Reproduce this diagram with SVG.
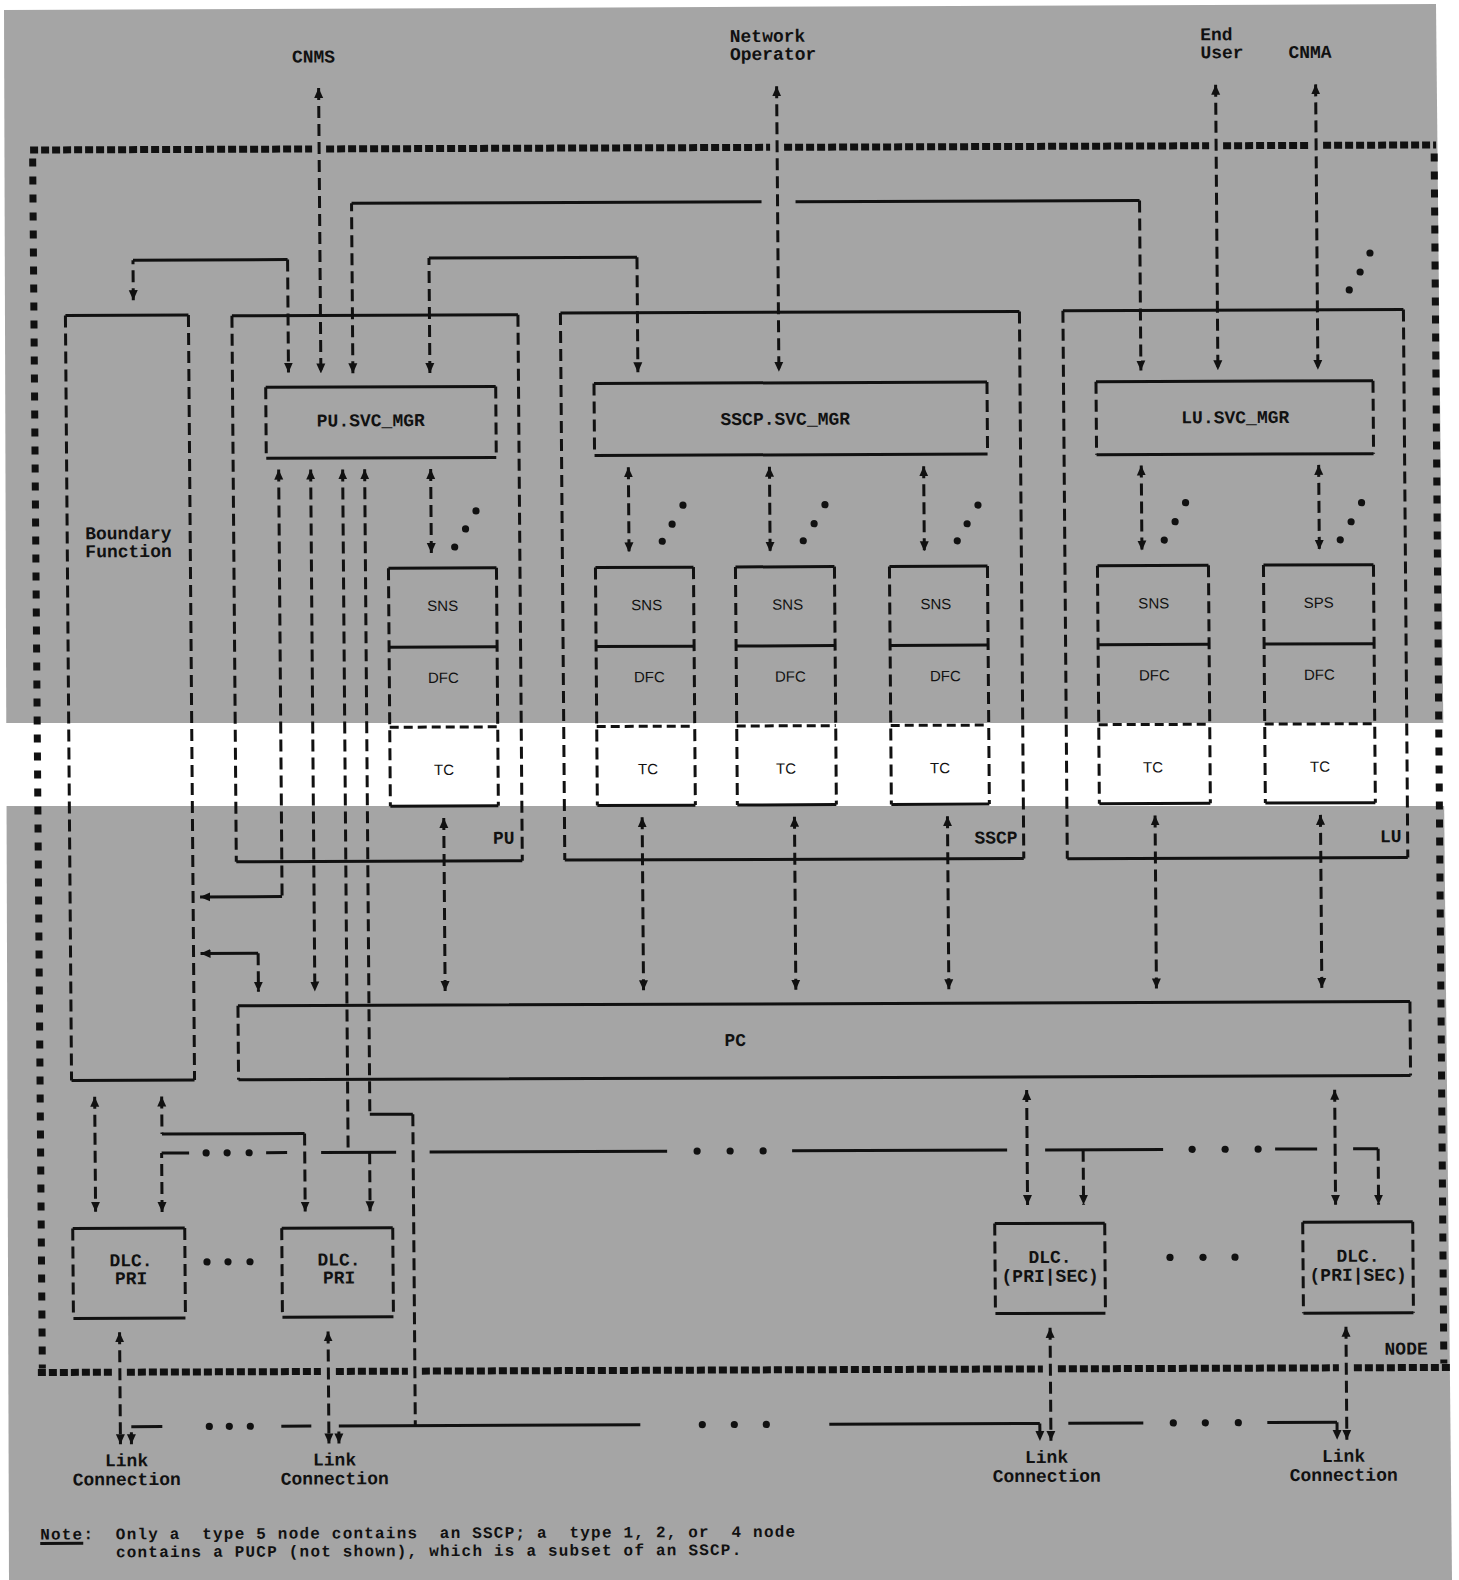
<svg xmlns="http://www.w3.org/2000/svg" width="1459" height="1580" viewBox="0 0 1459 1580">
<defs>
<style>
.s{stroke:#111;stroke-width:3;fill:none}
.d{stroke:#111;stroke-width:3;fill:none;stroke-dasharray:12 6}
.td{stroke:#111;stroke-width:3;fill:none;stroke-dasharray:9 5}
.bh{stroke:#111;stroke-width:7;fill:none;stroke-dasharray:8 3}
.bv{stroke:#111;stroke-width:7;fill:none;stroke-dasharray:8 10}
.m{font-family:"Liberation Mono","DejaVu Sans Mono",monospace;font-weight:bold;font-size:18px;fill:#111}
.n{font-family:"Liberation Mono","DejaVu Sans Mono",monospace;font-weight:bold;font-size:16px;letter-spacing:1.2px;fill:#111;white-space:pre}
.c{text-anchor:middle}
.e{text-anchor:end}
.sa{font-family:"Liberation Sans",Arial,sans-serif;font-size:15px;fill:#111;text-anchor:middle}
.dt{fill:#111}
</style>
<marker id="ah" viewBox="0 0 10 10" refX="10" refY="5" markerWidth="10" markerHeight="10" markerUnits="userSpaceOnUse" orient="auto-start-reverse"><path d="M0,0.5 L10,5 L0,9.5 z" fill="#111"/></marker>
</defs>
<rect width="1459" height="1580" fill="#fff"/>
<polygon points="4,10 1436,4 1452,1580 9,1580" fill="#a5a5a5"/>
<rect x="0" y="723" width="1459" height="83" fill="#fff"/>
<g transform="matrix(1 -0.0036 0.008 1 -6.08 2.63)">
<g id="node-border">
<path class="bh" d="M35,147.5 H317 M331,147.5 H775 M789,147.5 H1214 M1228,147.5 H1314 M1328,147.5 H1441"/>
<path class="bv" d="M37.5,156 V1366 M1439,156 V1366"/>
<path class="bh" d="M33,1370 H108 M122,1370 H316 M331,1370 H403 M417,1370 H1038 M1053,1370 H1334 M1349,1370 H1446"/>
<text class="m e" x="1423" y="1357">NODE</text>
</g>
<g id="labels-top">
<text class="m" x="297.5" y="61">CNMS</text>
<text class="m" x="735.5" y="42">Network</text>
<text class="m" x="735.5" y="60">Operator</text>
<text class="m" x="1206" y="42">End</text>
<text class="m" x="1206" y="60">User</text>
<text class="m" x="1294" y="60">CNMA</text>
</g>
<g id="boundary-function">
<path class="s" d="M69,313 H192 M69,1078 H192"/>
<path class="d" d="M69,313 V1078 M192,313 V1078"/>
<text class="m" x="87" y="537">Boundary</text>
<text class="m" x="87" y="555">Function</text>
</g>
<g id="pu">
<path class="s" d="M235.5,314 H521.5 M235.5,860 H521.5"/>
<path class="d" d="M235.5,314 V860 M521.5,314 V860"/>
<text class="m e" x="514" y="843">PU</text>
</g>
<g id="pu-svc-mgr">
<path class="s" d="M268.7,385.7 H498.7 M268.7,456.7 H498.7"/>
<path class="d" d="M268.7,385.7 V456.7 M498.7,385.7 V456.7"/>
<text class="m c" x="373.5" y="425">PU.SVC_MGR</text>
</g>
<g id="pu-sns">
<path class="s" d="M390,567 H498 M390,646 H498 M390,805 H498"/>
<path class="td" d="M390,726 H498"/>
<path class="d" d="M390,567 V805 M498,567 V805"/>
<text class="sa" x="444" y="610">SNS</text>
<text class="sa" x="444" y="682">DFC</text>
<text class="sa" x="444" y="774">TC</text>
</g>
<g id="sscp">
<path class="s" d="M564,312.5 H1023 M564,859.5 H1023"/>
<path class="d" d="M564,312.5 V859.5 M1023,312.5 V859.5"/>
<text class="m e" x="1017" y="844.5">SSCP</text>
</g>
<g id="sscp-svc-mgr">
<path class="s" d="M597,383 H990 M597,455 H990"/>
<path class="d" d="M597,383 V455 M990,383 V455"/>
<text class="m c" x="788" y="425">SSCP.SVC_MGR</text>
</g>
<g id="sscp-sns-1">
<path class="s" d="M597,567 H695 M597,646 H695 M597,805 H695"/>
<path class="td" d="M597,726 H695"/>
<path class="d" d="M597,567 V805 M695,567 V805"/>
<text class="sa" x="648" y="610">SNS</text>
<text class="sa" x="650" y="682">DFC</text>
<text class="sa" x="648" y="774">TC</text>
</g>
<g id="sscp-sns-2">
<path class="s" d="M737,567 H836 M737,646 H836 M737,805 H836"/>
<path class="td" d="M737,726 H836"/>
<path class="d" d="M737,567 V805 M836,567 V805"/>
<text class="sa" x="789" y="610">SNS</text>
<text class="sa" x="791" y="682">DFC</text>
<text class="sa" x="786" y="774">TC</text>
</g>
<g id="sscp-sns-3">
<path class="s" d="M891,567 H989 M891,646 H989 M891,805 H989"/>
<path class="td" d="M891,726 H989"/>
<path class="d" d="M891,567 V805 M989,567 V805"/>
<text class="sa" x="937" y="610">SNS</text>
<text class="sa" x="946" y="682">DFC</text>
<text class="sa" x="940" y="774">TC</text>
</g>
<g id="lu">
<path class="s" d="M1066.5,312 H1407 M1066.5,860 H1407"/>
<path class="d" d="M1066.5,312 V860 M1407,312 V860"/>
<text class="m e" x="1401" y="844.5">LU</text>
</g>
<g id="lu-svc-mgr">
<path class="s" d="M1099,383 H1376 M1099,456 H1376"/>
<path class="d" d="M1099,383 V456 M1376,383 V456"/>
<text class="m c" x="1238" y="425">LU.SVC_MGR</text>
</g>
<g id="lu-sns">
<path class="s" d="M1099,567 H1210 M1099,646 H1210 M1099,805 H1210"/>
<path class="td" d="M1099,726 H1210"/>
<path class="d" d="M1099,567 V805 M1210,567 V805"/>
<text class="sa" x="1155" y="610">SNS</text>
<text class="sa" x="1155" y="682">DFC</text>
<text class="sa" x="1153" y="774">TC</text>
</g>
<g id="lu-sps">
<path class="s" d="M1265,567 H1375 M1265,646 H1375 M1265,805 H1375"/>
<path class="td" d="M1265,726 H1375"/>
<path class="d" d="M1265,567 V805 M1375,567 V805"/>
<text class="sa" x="1320" y="610">SPS</text>
<text class="sa" x="1320" y="682">DFC</text>
<text class="sa" x="1320" y="774">TC</text>
</g>
<g id="pc">
<path class="s" d="M236,1004 H1408 M236,1078 H1408"/>
<path class="d" d="M236,1004 V1078 M1408,1004 V1078"/>
<text class="m c" x="733" y="1046">PC</text>
</g>
<g id="dlc-1">
<path class="s" d="M69,1226 H181 M69,1316 H181"/>
<path class="d" d="M69,1226 V1316 M181,1226 V1316"/>
<text class="m c" x="127" y="1264">DLC.</text>
<text class="m c" x="127" y="1282">PRI</text>
</g>
<g id="dlc-2">
<path class="s" d="M278,1226.5 H389 M278,1315.5 H389"/>
<path class="d" d="M278,1226.5 V1315.5 M389,1226.5 V1315.5"/>
<text class="m c" x="335" y="1264">DLC.</text>
<text class="m c" x="335" y="1282">PRI</text>
</g>
<g id="dlc-3">
<path class="s" d="M991,1224.5 H1101 M991,1314.5 H1101"/>
<path class="d" d="M991,1224.5 V1314.5 M1101,1224.5 V1314.5"/>
<text class="m c" x="1046" y="1264">DLC.</text>
<text class="m c" x="1046" y="1283">(PRI|SEC)</text>
</g>
<g id="dlc-4">
<path class="s" d="M1299,1224.3 H1409 M1299,1315.3 H1409"/>
<path class="d" d="M1299,1224.3 V1315.3 M1409,1224.3 V1315.3"/>
<text class="m c" x="1354" y="1264">DLC.</text>
<text class="m c" x="1354" y="1283">(PRI|SEC)</text>
</g>
<g id="link-labels">
<text class="m c" x="121" y="1464">Link</text>
<text class="m c" x="121" y="1483">Connection</text>
<text class="m c" x="329" y="1464">Link</text>
<text class="m c" x="329" y="1483">Connection</text>
<text class="m c" x="1041" y="1464">Link</text>
<text class="m c" x="1041" y="1483">Connection</text>
<text class="m c" x="1338" y="1464">Link</text>
<text class="m c" x="1338" y="1483">Connection</text>
</g>
<g id="note">
<text class="n" x="34" y="1537">Note:  Only a  type 5 node contains  an SSCP; a  type 1, 2, or  4 node</text>
<text class="n" x="109.6" y="1555">contains a PUCP (not shown), which is a subset of an SSCP.</text>
<path class="s" d="M34,1541 H77" stroke-width="2"/>
</g>
<g id="connectors">
<path class="d" d="M324,86.5 V372" marker-start="url(#ah)" marker-end="url(#ah)"/>
<path class="d" d="M782,86.5 V372" marker-start="url(#ah)" marker-end="url(#ah)"/>
<path class="d" d="M1221,86.5 V372" marker-start="url(#ah)" marker-end="url(#ah)"/>
<path class="d" d="M1321,86.5 V372" marker-start="url(#ah)" marker-end="url(#ah)"/>
<path class="d" d="M137,298 V258" marker-start="url(#ah)"/>
<path class="s" d="M137,258 H291.6"/>
<path class="d" d="M291.6,258 V371" marker-end="url(#ah)"/>
<path class="d" d="M356,372 V202" marker-start="url(#ah)"/>
<path class="s" d="M356,202 H766 M800,202 H1144"/>
<path class="d" d="M1144,202 V372" marker-end="url(#ah)"/>
<path class="d" d="M433,372 V257" marker-start="url(#ah)"/>
<path class="s" d="M433,257 H641"/>
<path class="d" d="M641,257 V372" marker-end="url(#ah)"/>
<path class="d" d="M433,468 V552" marker-start="url(#ah)" marker-end="url(#ah)"/>
<path class="d" d="M630.7,467 V552" marker-start="url(#ah)" marker-end="url(#ah)"/>
<path class="d" d="M771.8,467 V552" marker-start="url(#ah)" marker-end="url(#ah)"/>
<path class="d" d="M926,467 V552" marker-start="url(#ah)" marker-end="url(#ah)"/>
<path class="d" d="M1143.6,467 V552" marker-start="url(#ah)" marker-end="url(#ah)"/>
<path class="d" d="M1321,467 V552" marker-start="url(#ah)" marker-end="url(#ah)"/>
<circle class="dt" cx="478" cy="510" r="3.6"/><circle class="dt" cx="467.4" cy="528" r="3.6"/><circle class="dt" cx="456.4" cy="546" r="3.6"/>
<circle class="dt" cx="685" cy="505" r="3.6"/><circle class="dt" cx="674" cy="524" r="3.6"/><circle class="dt" cx="664" cy="541" r="3.6"/>
<circle class="dt" cx="827" cy="505" r="3.6"/><circle class="dt" cx="816" cy="524" r="3.6"/><circle class="dt" cx="805" cy="541" r="3.6"/>
<circle class="dt" cx="980" cy="506" r="3.6"/><circle class="dt" cx="969" cy="524.6" r="3.6"/><circle class="dt" cx="959" cy="541.6" r="3.6"/>
<circle class="dt" cx="1187.6" cy="504.3" r="3.6"/><circle class="dt" cx="1177" cy="523.3" r="3.6"/><circle class="dt" cx="1166" cy="541.6" r="3.6"/>
<circle class="dt" cx="1363.6" cy="505" r="3.6"/><circle class="dt" cx="1353" cy="524" r="3.6"/><circle class="dt" cx="1342" cy="542" r="3.6"/>
<circle class="dt" cx="1374" cy="255.3" r="3.6"/><circle class="dt" cx="1364" cy="274.3" r="3.6"/><circle class="dt" cx="1353" cy="292.2" r="3.6"/>
<path class="d" d="M281,468 V895" marker-start="url(#ah)"/>
<path class="s" d="M281,895 H199" marker-end="url(#ah)"/>
<path class="d" d="M313,468 V990" marker-start="url(#ah)" marker-end="url(#ah)"/>
<path class="d" d="M345,468 V1151" marker-start="url(#ah)"/>
<path class="d" d="M367,468 V1113" marker-start="url(#ah)"/>
<path class="s" d="M367,1113 H410"/>
<path class="d" d="M410,1113 V1424.5"/>
<path class="s" d="M199,951.5 H256.6" marker-start="url(#ah)"/>
<path class="d" d="M256.6,951.5 V990" marker-end="url(#ah)"/>
<path class="d" d="M443.3,817 V990" marker-start="url(#ah)" marker-end="url(#ah)"/>
<path class="d" d="M641.7,817 V990" marker-start="url(#ah)" marker-end="url(#ah)"/>
<path class="d" d="M794,817 V990" marker-start="url(#ah)" marker-end="url(#ah)"/>
<path class="d" d="M947,817 V990" marker-start="url(#ah)" marker-end="url(#ah)"/>
<path class="d" d="M1154.6,817 V990" marker-start="url(#ah)" marker-end="url(#ah)"/>
<path class="d" d="M1320,817 V990" marker-start="url(#ah)" marker-end="url(#ah)"/>
<path class="d" d="M92,1094.5 V1209.5" marker-start="url(#ah)" marker-end="url(#ah)"/>
<path class="d" d="M159,1094.5 V1132" marker-start="url(#ah)"/>
<path class="s" d="M159,1132 H301.6"/>
<path class="d" d="M301.6,1132 V1210" marker-end="url(#ah)"/>
<path class="d" d="M158.5,1210 V1151" marker-start="url(#ah)"/>
<path class="s" d="M158.5,1151 H186 M263,1151 H284 M318,1151 H393 M426.5,1151 H664 M789,1151 H1004 M1042,1151 H1160 M1272,1151 H1314 M1350,1151 H1375"/>
<path class="d" d="M366.5,1151 V1210" marker-end="url(#ah)"/>
<path class="d" d="M1080,1151 V1206" marker-end="url(#ah)"/>
<path class="d" d="M1375,1151 V1207" marker-end="url(#ah)"/>
<circle class="dt" cx="203" cy="1151" r="3.6"/><circle class="dt" cx="224" cy="1151" r="3.6"/><circle class="dt" cx="246" cy="1151" r="3.6"/>
<circle class="dt" cx="694" cy="1151" r="3.6"/><circle class="dt" cx="727" cy="1151" r="3.6"/><circle class="dt" cx="760" cy="1151" r="3.6"/>
<circle class="dt" cx="1189" cy="1151" r="3.6"/><circle class="dt" cx="1222" cy="1151" r="3.6"/><circle class="dt" cx="1255" cy="1151" r="3.6"/>
<path class="d" d="M1024,1091 V1206" marker-start="url(#ah)" marker-end="url(#ah)"/>
<path class="d" d="M1332,1092 V1207" marker-start="url(#ah)" marker-end="url(#ah)"/>
<circle class="dt" cx="203" cy="1260" r="3.6"/><circle class="dt" cx="224" cy="1260" r="3.6"/><circle class="dt" cx="246" cy="1260" r="3.6"/>
<circle class="dt" cx="1166" cy="1259" r="3.6"/><circle class="dt" cx="1199" cy="1259" r="3.6"/><circle class="dt" cx="1231" cy="1259" r="3.6"/>
<path class="d" d="M115,1330 V1442" marker-start="url(#ah)" marker-end="url(#ah)"/>
<path class="d" d="M323.5,1330 V1442" marker-start="url(#ah)" marker-end="url(#ah)"/>
<path class="d" d="M1045.5,1329 V1442" marker-start="url(#ah)" marker-end="url(#ah)"/>
<path class="d" d="M1341.4,1329 V1442" marker-start="url(#ah)" marker-end="url(#ah)"/>
<path class="d" d="M126,1442 V1424.5" marker-start="url(#ah)"/>
<path class="d" d="M333.5,1442 V1424.5" marker-start="url(#ah)"/>
<path class="s" d="M126,1424.5 H157 M276,1424.5 H306 M333.5,1424.5 H635 M824,1424.5 H1034.5 M1063,1424.5 H1138 M1262,1424.5 H1331.7"/>
<path class="d" d="M1034.5,1424.5 V1442" marker-end="url(#ah)"/>
<path class="d" d="M1331.7,1424.5 V1442" marker-end="url(#ah)"/>
<circle class="dt" cx="204" cy="1424.5" r="3.6"/><circle class="dt" cx="224" cy="1424.5" r="3.6"/><circle class="dt" cx="245" cy="1424.5" r="3.6"/>
<circle class="dt" cx="697" cy="1424.5" r="3.6"/><circle class="dt" cx="729" cy="1424.5" r="3.6"/><circle class="dt" cx="761" cy="1424.5" r="3.6"/>
<circle class="dt" cx="1168" cy="1424.5" r="3.6"/><circle class="dt" cx="1200" cy="1424.5" r="3.6"/><circle class="dt" cx="1233" cy="1424.5" r="3.6"/>
</g>
</g>
</svg>
